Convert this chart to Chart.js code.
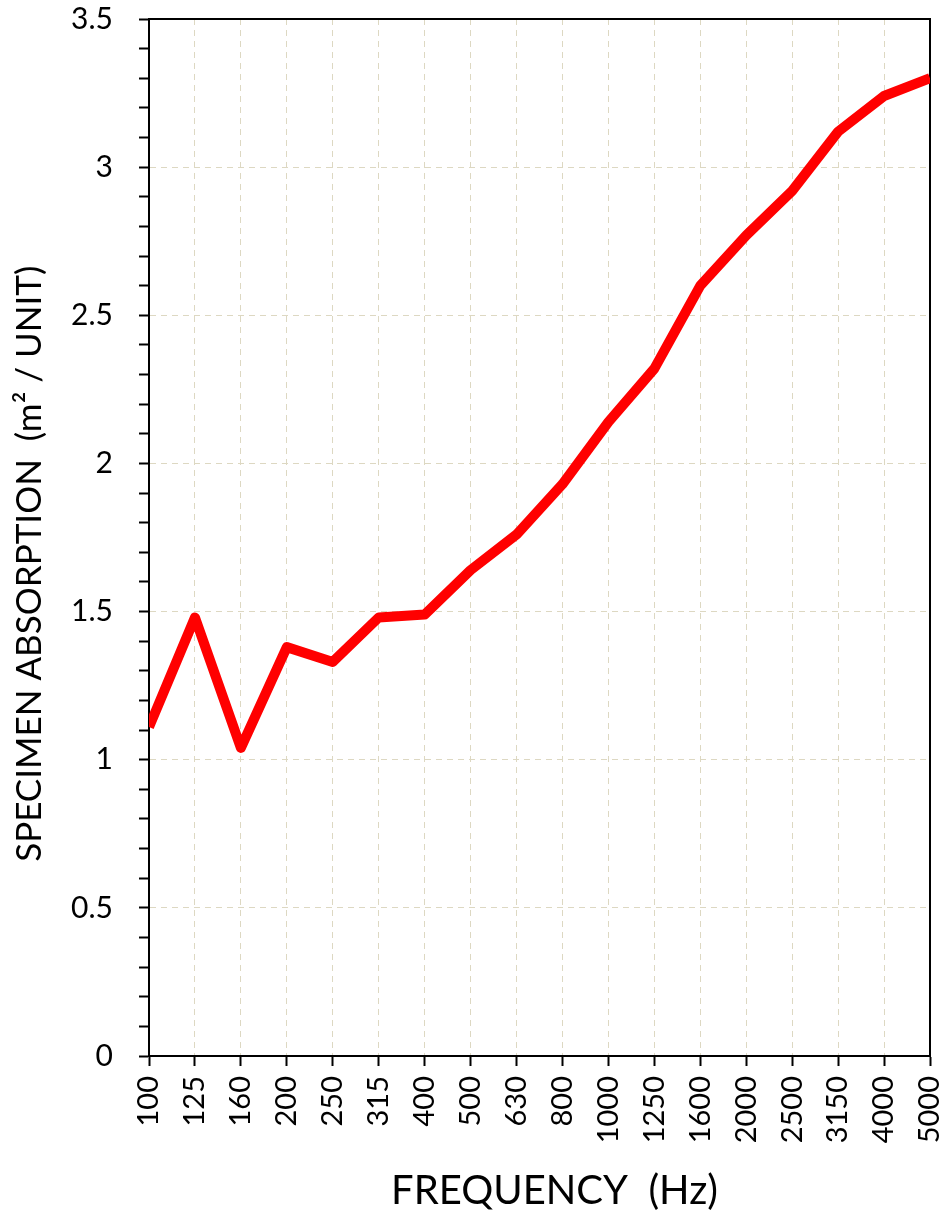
<!DOCTYPE html>
<html>
<head>
<meta charset="utf-8">
<script src="https://cdn.jsdelivr.net/npm/chart.js@4.4.1/dist/chart.umd.min.js"></script>
<style>
  html, body { margin: 0; padding: 0; background: #fff; }
  #wrap { width: 946px; height: 1220px; position: relative; }
</style>
</head>
<body>
<div id="wrap"><canvas id="c" width="946" height="1220"></canvas></div>
<script>
const frequencies = ['100','125','160','200','250','315','400','500','630','800','1000','1250','1600','2000','2500','3150','4000','5000'];
const absorption = [1.11, 1.48, 1.04, 1.38, 1.33, 1.48, 1.49, 1.64, 1.76, 1.93, 2.14, 2.32, 2.60, 2.77, 2.92, 3.12, 3.24, 3.30];
const yMin = 0;
const yMax = 3.5;
const yMajorStep = 0.5;
const yMinorStep = 0.1;
const xTitle = 'FREQUENCY  (Hz)';
const yTitle = 'SPECIMEN ABSORPTION  (m² / UNIT)';

const FONT = 'Lato, "Open Sans", sans-serif';
const GRID = '#ddd8c2';
const isMajor = v => Math.abs(v / yMajorStep - Math.round(v / yMajorStep)) < 1e-6;
const noPad = s => { s.paddingTop = 0; s.paddingBottom = 0; s.paddingLeft = 0; s.paddingRight = 0; };

new Chart(document.getElementById('c'), {
  type: 'line',
  data: {
    labels: frequencies,
    datasets: [{
      data: absorption,
      borderColor: '#ff0000',
      borderWidth: 10,
      borderJoinStyle: 'round',
      borderCapStyle: 'butt',
      pointRadius: 0,
      tension: 0,
      fill: false,
      clip: 0
    }]
  },
  options: {
    responsive: false,
    animation: false,
    events: [],
    layout: { padding: 0 },
    plugins: { legend: { display: false }, tooltip: { enabled: false } },
    scales: {
      x: {
        type: 'category',
        position: 'bottom',
        offset: false,
        grid: {
          offset: false,
          color: c => (c.index === 0 || c.index === frequencies.length - 1) ? 'rgba(0,0,0,0)' : GRID,
          lineWidth: 1,
          drawTicks: true,
          tickLength: 10,
          tickColor: '#000',
          tickWidth: 2
        },
        border: { display: true, color: '#000', width: 2, dash: [6, 5] },
        ticks: {
          autoSkip: false,
          maxRotation: 90,
          minRotation: 90,
          padding: 10,
          color: '#000',
          font: { family: FONT, size: 29 }
        },
        title: {
          display: true,
          text: '\u2003' + xTitle,
          color: '#000',
          font: { family: FONT, size: 40 },
          padding: { top: 0, bottom: 5 }
        },
        afterFit: s => { s.height = 164; noPad(s); }
      },
      y: {
        type: 'linear',
        position: 'left',
        min: yMin,
        max: yMax,
        grid: {
          color: c => {
            const v = c.tick ? c.tick.value : 0;
            if (Math.abs(v - yMin) < 1e-6 || Math.abs(v - yMax) < 1e-6) return 'rgba(0,0,0,0)';
            return isMajor(v) ? GRID : 'rgba(0,0,0,0)';
          },
          lineWidth: 1,
          drawTicks: true,
          tickLength: 10,
          tickColor: '#000',
          tickWidth: 2
        },
        border: { display: true, color: '#000', width: 2, dash: [6, 5] },
        ticks: {
          stepSize: yMinorStep,
          autoSkip: false,
          padding: 26,
          color: '#000',
          font: { family: FONT, size: 30 },
          callback: v => isMajor(v) ? String(Number(v.toFixed(1))) : ''
        },
        title: {
          display: true,
          text: yTitle + '\u2003\u2003',
          color: '#000',
          font: { family: FONT, size: 35 },
          padding: { top: 9, bottom: 0 }
        },
        afterFit: s => { s.width = 149; noPad(s); }
      },
      x2: {
        type: 'category',
        position: 'top',
        offset: false,
        grid: { display: false, drawTicks: false },
        border: { display: true, color: '#000', width: 2 },
        ticks: { display: false },
        afterFit: s => { s.height = 19; noPad(s); }
      },
      y2: {
        type: 'linear',
        position: 'right',
        min: yMin,
        max: yMax,
        grid: { display: false, drawTicks: false },
        border: { display: true, color: '#000', width: 2 },
        ticks: { display: false },
        afterFit: s => { s.width = 16; noPad(s); }
      }
    }
  }
});
</script>
</body>
</html>
